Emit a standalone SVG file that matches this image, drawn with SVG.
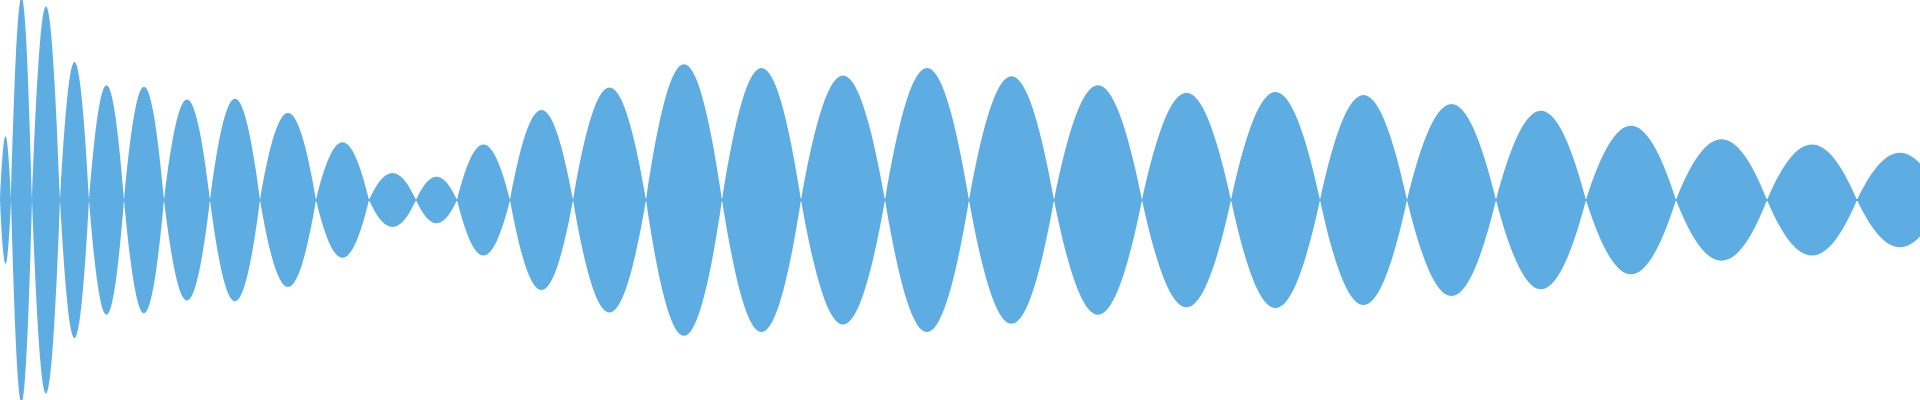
<svg xmlns="http://www.w3.org/2000/svg" width="1920" height="400" viewBox="0 0 1920 400">
<style>.w{fill:#5DADE2;stroke:none}</style>
<rect width="1920" height="400" fill="#fff"/>
<g id="waveform">
<rect class="w" x="0" y="199" width="1920" height="2"/>
<path class="w" d="
M0 200 C3.85 115 7.15 115 11 200 C7.15 285 3.85 285 0 200Z
M11 200 C18.35 -70 24.65 -70 32 200 C24.65 470 18.35 470 11 200Z
M32 200 C41.8 -58 50.2 -58 60 200 C50.2 458 41.8 458 32 200Z
M60 200 C70.15 16 78.85 16 89 200 C78.85 384 70.15 384 60 200Z
M89 200 C101.25 47 111.75 47 124 200 C111.75 353 101.25 353 89 200Z
M124 200 C138 49 150 49 164 200 C150 351 138 351 124 200Z
M164 200 C180.1 66 193.9 66 210 200 C193.9 334 180.1 334 164 200Z
M210 200 C227.5 65 242.5 65 260 200 C242.5 335 227.5 335 210 200Z
M260 200 C279.6 84 296.4 84 316 200 C296.4 316 279.6 316 260 200Z
M316 200 C334.55 123 350.45 123 369 200 C350.45 277 334.55 277 316 200Z
M369 200 C385.45 164 399.55 164 416 200 C399.55 236 385.45 236 369 200Z
M416 200 C430.35 169 442.65 169 457 200 C442.65 231 430.35 231 416 200Z
M457 200 C475.55 126 491.45 126 510 200 C491.45 274 475.55 274 457 200Z
M510 200 C532.05 80 550.95 80 573 200 C550.95 320 532.05 320 510 200Z
M573 200 C598.55 50 620.45 50 646 200 C620.45 350 598.55 350 573 200Z
M646 200 C672.6 19 695.4 19 722 200 C695.4 381 672.6 381 646 200Z
M722 200 C749.65 24 773.35 24 801 200 C773.35 376 749.65 376 722 200Z
M801 200 C830.4 34 855.6 34 885 200 C855.6 366 830.4 366 801 200Z
M885 200 C914.4 24 939.6 24 969 200 C939.6 376 914.4 376 885 200Z
M969 200 C998.75 35 1024.25 35 1054 200 C1024.25 365 998.75 365 969 200Z
M1054 200 C1084.8 47 1111.2 47 1142 200 C1111.2 353 1084.8 353 1054 200Z
M1142 200 C1173.15 57 1199.85 57 1231 200 C1199.85 343 1173.15 343 1142 200Z
M1231 200 C1262.15 56 1288.85 56 1320 200 C1288.85 344 1262.15 344 1231 200Z
M1320 200 C1350.45 60 1376.55 60 1407 200 C1376.55 340 1350.45 340 1320 200Z
M1407 200 C1438.15 72 1464.85 72 1496 200 C1464.85 328 1438.15 328 1407 200Z
M1496 200 C1527.5 81 1554.5 81 1586 200 C1554.5 319 1527.5 319 1496 200Z
M1586 200 C1617.5 101 1644.5 101 1676 200 C1644.5 299 1617.5 299 1586 200Z
M1676 200 C1707.85 119 1735.15 119 1767 200 C1735.15 281 1707.85 281 1676 200Z
M1767 200 C1798.5 126 1825.5 126 1857 200 C1825.5 274 1798.5 274 1767 200Z
M1857 200 C1887.1 137 1912.9 137 1943 200 C1912.9 263 1887.1 263 1857 200Z"/>
</g>
</svg>
